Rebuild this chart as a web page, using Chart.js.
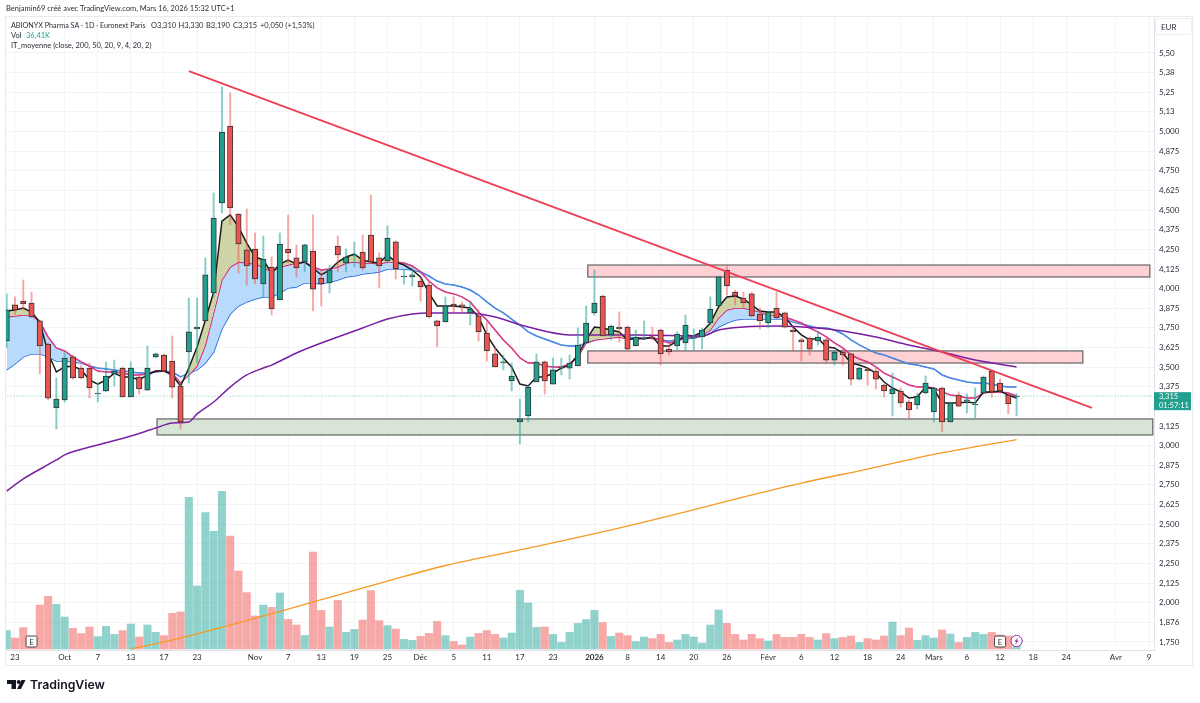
<!DOCTYPE html>
<html>
<head>
<meta charset="utf-8">
<title>ABIONYX Pharma SA</title>
<script src="https://cdn.jsdelivr.net/npm/chart.js@4/dist/chart.umd.min.js"></script>
<style>
  html, body { margin: 0; padding: 0; background: #fff; }
  canvas { display: block; }
</style>
</head>
<body>
<canvas id="myChart" width="1200" height="703"></canvas>
<script>
// ohlc, one entry per trading day (index 0 = 22 Sept 2025)
const opens = [3.666,3.896,3.921,3.908,3.794,3.647,3.240,3.291,3.565,3.494,
  3.494,3.329,3.348,3.456,3.494,3.310,3.437,3.354,3.565,3.577,
  3.539,3.380,3.596,3.743,3.794,3.972,4.545,5.035,4.475,4.246,
  4.252,4.029,4.137,3.927,4.252,4.195,4.169,4.239,4.067,4.036,
  4.271,4.163,4.208,4.233,4.341,4.195,4.176,4.297,4.074,4.074,
  4.048,4.023,3.794,3.787,3.902,3.896,3.845,3.826,3.717,3.584,
  3.526,3.412,3.151,3.189,3.405,3.533,3.392,3.494,3.494,3.507,
  3.654,3.845,3.953,3.705,3.755,3.755,3.635,3.679,3.692,3.736,
  3.615,3.635,3.654,3.685,3.692,3.781,3.889,4.118,3.978,3.940,
  3.966,3.838,3.781,3.876,3.845,3.736,3.673,3.685,3.666,3.673,
  3.545,3.596,3.584,3.424,3.488,3.475,3.386,3.329,3.348,3.278,
  3.259,3.335,3.214,3.367,3.151,3.322,3.284,3.259,3.335,3.475,
  3.399,3.322,3.310];
const highs = [3.966,3.947,4.055,3.978,3.800,3.654,3.431,3.590,3.577,3.513,
  3.526,3.399,3.533,3.545,3.501,3.533,3.450,3.635,3.590,3.584,
  3.698,3.399,3.940,3.940,4.195,4.609,5.284,5.245,4.481,4.507,
  4.354,4.335,4.201,4.354,4.469,4.278,4.284,4.469,4.118,4.150,
  4.335,4.252,4.297,4.341,4.596,4.227,4.399,4.303,4.118,4.131,
  4.067,4.048,3.800,3.947,3.947,3.915,3.915,3.864,3.787,3.622,
  3.577,3.526,3.297,3.380,3.584,3.539,3.558,3.558,3.577,3.749,
  3.889,4.118,3.959,3.768,3.851,3.762,3.736,3.794,3.755,3.743,
  3.641,3.724,3.832,3.743,3.749,3.947,4.080,4.144,3.991,3.978,
  3.978,3.876,3.857,3.978,3.851,3.749,3.685,3.692,3.724,3.685,
  3.609,3.615,3.590,3.501,3.494,3.494,3.392,3.462,3.367,3.291,
  3.335,3.443,3.373,3.373,3.278,3.342,3.329,3.367,3.443,3.482,
  3.424,3.335,3.330];
const lows = [3.622,3.832,3.864,3.813,3.456,3.291,3.106,3.278,3.424,3.424,
  3.303,3.278,3.342,3.380,3.310,3.310,3.329,3.354,3.558,3.469,
  3.303,3.106,3.399,3.526,3.794,3.947,4.481,4.405,4.099,4.023,
  4.029,3.947,3.832,3.927,4.163,4.074,4.106,3.857,3.889,3.972,
  4.106,4.106,4.137,4.118,4.163,4.004,4.169,4.061,4.029,4.017,
  3.921,3.813,3.628,3.787,3.851,3.851,3.768,3.666,3.539,3.501,
  3.482,3.348,3.011,3.151,3.405,3.329,3.392,3.450,3.424,3.507,
  3.654,3.832,3.698,3.673,3.660,3.603,3.635,3.679,3.673,3.513,
  3.577,3.609,3.609,3.609,3.615,3.768,3.889,3.959,3.896,3.876,
  3.819,3.743,3.749,3.806,3.749,3.603,3.539,3.577,3.641,3.526,
  3.513,3.513,3.386,3.418,3.386,3.361,3.310,3.189,3.246,3.176,
  3.233,3.329,3.151,3.087,3.151,3.246,3.208,3.176,3.329,3.310,
  3.335,3.202,3.190];
const closes = [3.864,3.864,3.902,3.819,3.635,3.303,3.297,3.558,3.431,3.431,
  3.367,3.335,3.443,3.475,3.310,3.494,3.361,3.494,3.584,3.475,
  3.373,3.151,3.724,3.755,4.087,4.449,4.997,4.513,4.284,4.144,
  4.061,4.188,3.870,4.284,4.227,4.131,4.278,3.997,4.029,4.118,
  4.214,4.201,4.214,4.131,4.169,4.144,4.322,4.125,4.080,4.087,
  4.010,3.819,3.762,3.889,3.889,3.889,3.870,3.724,3.603,3.501,
  3.533,3.443,3.170,3.373,3.533,3.412,3.482,3.501,3.526,3.641,
  3.781,3.908,3.698,3.762,3.743,3.615,3.692,3.685,3.685,3.584,
  3.596,3.711,3.768,3.692,3.736,3.870,4.074,4.017,3.953,3.908,
  3.826,3.794,3.851,3.813,3.755,3.724,3.660,3.615,3.692,3.545,
  3.596,3.577,3.424,3.494,3.475,3.424,3.348,3.361,3.272,3.227,
  3.316,3.399,3.367,3.151,3.272,3.252,3.291,3.265,3.437,3.342,
  3.348,3.265,3.315];

// volume in thousands
const volumes = [92,55,107,62,220,263,223,160,103,77,
  110,62,113,73,92,125,60,120,83,67,
  178,185,758,315,682,588,788,565,390,282,
  165,220,208,280,148,120,68,485,193,110,
  243,83,98,145,292,142,117,100,48,43,
  63,78,138,67,37,20,60,78,92,73,
  55,80,293,230,108,110,73,33,83,128,
  147,193,132,63,80,67,37,60,52,73,
  33,45,73,60,30,120,195,128,73,45,
  73,52,40,73,58,58,73,58,45,77,
  52,58,65,33,52,45,65,135,67,105,
  43,67,55,95,75,33,58,83,73,83,
  70,65,36.41];

// IT_moyenne lines, per bar
const fastLine = [3.857,3.864,3.876,3.851,3.787,3.590,3.469,3.501,3.507,3.482,
  3.418,3.392,3.418,3.462,3.437,3.437,3.418,3.450,3.475,3.475,
  3.450,3.380,3.494,3.628,3.800,3.978,4.430,4.469,4.392,4.290,
  4.201,4.182,4.099,4.156,4.182,4.156,4.169,4.131,4.087,4.118,
  4.169,4.201,4.220,4.182,4.169,4.163,4.214,4.169,4.150,4.118,
  4.074,3.972,3.889,3.889,3.889,3.883,3.876,3.819,3.705,3.622,
  3.558,3.501,3.392,3.380,3.437,3.437,3.462,3.494,3.513,3.577,
  3.673,3.755,3.749,3.736,3.724,3.673,3.685,3.679,3.692,3.635,
  3.635,3.666,3.705,3.698,3.724,3.781,3.883,3.947,3.953,3.934,
  3.896,3.857,3.851,3.851,3.819,3.755,3.705,3.673,3.685,3.628,
  3.622,3.590,3.526,3.513,3.494,3.462,3.405,3.367,3.342,3.303,
  3.310,3.373,3.361,3.272,3.272,3.272,3.278,3.272,3.342,3.342,
  3.348,3.322,3.303];
const ma20 = [3.819,3.826,3.832,3.832,3.787,3.692,3.622,3.603,3.565,3.533,
  3.507,3.475,3.469,3.469,3.462,3.450,3.450,3.456,3.475,3.475,
  3.462,3.399,3.450,3.507,3.641,3.845,4.055,4.137,4.169,4.163,
  4.156,4.137,4.106,4.137,4.150,4.163,4.169,4.137,4.118,4.125,
  4.137,4.163,4.169,4.163,4.163,4.156,4.169,4.169,4.163,4.144,
  4.106,4.048,4.004,3.978,3.966,3.947,3.915,3.851,3.800,3.736,
  3.673,3.622,3.558,3.526,3.526,3.507,3.501,3.501,3.520,3.565,
  3.654,3.673,3.679,3.685,3.692,3.679,3.679,3.685,3.685,3.673,
  3.654,3.666,3.692,3.692,3.705,3.736,3.813,3.864,3.876,3.876,
  3.864,3.851,3.832,3.832,3.819,3.800,3.781,3.749,3.724,3.692,
  3.654,3.622,3.577,3.552,3.533,3.501,3.462,3.437,3.412,3.386,
  3.373,3.373,3.367,3.342,3.322,3.316,3.303,3.303,3.335,3.342,
  3.342,3.335,3.316];
const ma50 = [3.482,3.520,3.565,3.584,3.584,3.565,3.539,3.539,3.533,3.526,
  3.507,3.494,3.488,3.482,3.475,3.469,3.462,3.462,3.469,3.475,
  3.469,3.437,3.462,3.482,3.526,3.596,3.743,3.838,3.889,3.915,
  3.934,3.947,3.947,3.972,4.004,4.010,4.036,4.036,4.029,4.042,
  4.055,4.074,4.080,4.093,4.099,4.106,4.125,4.125,4.125,4.118,
  4.106,4.080,4.048,4.029,4.023,4.010,3.991,3.959,3.915,3.876,
  3.845,3.806,3.768,3.724,3.698,3.679,3.660,3.641,3.635,3.635,
  3.654,3.673,3.685,3.692,3.692,3.692,3.685,3.685,3.685,3.673,
  3.666,3.673,3.679,3.685,3.698,3.717,3.755,3.781,3.800,3.806,
  3.806,3.806,3.806,3.806,3.806,3.787,3.775,3.762,3.749,3.749,
  3.736,3.711,3.673,3.641,3.615,3.590,3.577,3.558,3.539,3.520,
  3.513,3.501,3.488,3.450,3.431,3.418,3.405,3.399,3.399,3.392,
  3.380,3.373,3.373];

// the two slow averages, read at a few bars only
const ma200Bars = [0,2,6,7,11,15,18,20,22,23,25,27,29,31,32,35,39,43,46,49,51,56,59,63,68,76,84,86,89,93,98,101,105,109,113,117,122];
const ma200 = [2.711,2.788,2.909,2.941,3.004,3.061,3.112,3.144,3.151,3.202,3.278,3.373,3.450,3.494,3.513,3.590,3.673,3.749,3.806,3.838,3.845,3.845,3.819,3.755,3.705,3.705,3.698,3.736,3.755,3.762,3.749,3.730,3.692,3.641,3.596,3.545,3.501];
const longMaBars = [15,19,23,27,34,40,46,53,62,75,82,88,96,104,112,122];
const longMa = [1.705,1.750,1.801,1.858,1.960,2.049,2.138,2.237,2.336,2.488,2.578,2.660,2.762,2.851,2.944,3.039];

// drawings: [bar, price]
const trendBars = [22.02,131.1];
const trendPrices = [5.385,3.240];
const lastPrice = 3.315;
const zones = [
  { from: 18.16, to: 138.45, top: 3.170, bottom: 3.068, color: '#d8e5d6' },
  { from: 70.2, to: 138.1, top: 4.150, bottom: 4.074, color: '#ffd0d4' },
  { from: 70.2, to: 130.0, top: 3.603, bottom: 3.526, color: '#ffd0d4' }
];

const timeTickBars = [1,7,11,15,19,23,30,34,38,42,46,50,54,58,62,66,71,75,79,83,87,92,96,100,104,108,112,116,120,124,128,134,138];
const timeTickLabels = ['23','Oct','7','13','17','23','Nov','7','13','19','25','Déc','5','11','17','23','2026','8','14','20','26','Févr','6','12','18','24','Mars','6','12','18','24','Avr','9'];
const priceTicks = [5.5,5.375,5.25,5.125,5,4.875,4.75,4.625,4.5,4.375,4.25,4.125,4,3.875,3.75,3.625,3.5,3.375,3.125,3,2.875,2.75,2.625,2.5,2.375,2.25,2.125,2,1.875,1.75];
const priceLabels = ['5,50','5,38','5,25','5,13','5,000','4,875','4,750','4,625','4,500','4,375','4,250','4,125','4,000','3,875','3,750','3,625','3,500','3,375','3,125','3,000','2,875','2,750','2,625','2,500','2,375','2,250','2,125','2,000','1,876','1,750'];

const upColor = '#22a08f';
const downColor = '#ef5350';
const textColor = '#2a2e39';
const font = 'Lato';

function isUp(i) { return closes[i] >= opens[i]; }
function toPoints(values) { return values.map((v, i) => ({ x: i, y: v })); }
function toSparse(bars, values) { return bars.map((b, i) => ({ x: b, y: values[i] })); }

const lineBase = { type: 'line', pointRadius: 0, borderWidth: 1.5, tension: 0, yAxisID: 'y' };

// zones go under the marks
const zonePlugin = {
  id: 'zones',
  beforeDatasetsDraw(chart) {
    const { ctx, scales: { x, y } } = chart;
    ctx.save();
    zones.forEach(z => {
      const l = x.getPixelForValue(z.from), r = x.getPixelForValue(z.to);
      const t = y.getPixelForValue(z.top), b = y.getPixelForValue(z.bottom);
      ctx.fillStyle = z.color;
      ctx.fillRect(l, t, r - l, b - t);
      ctx.strokeStyle = '#6e6e6e';
      ctx.lineWidth = 1.3;
      ctx.strokeRect(l, t, r - l, b - t);
    });
    ctx.restore();
  }
};

function drawEarnings(ctx, cx) {
  ctx.fillStyle = '#fff';
  ctx.strokeStyle = '#444';
  ctx.lineWidth = 1;
  ctx.beginPath();
  ctx.roundRect(cx - 5.5, 636, 11, 11, 1.5);
  ctx.fill();
  ctx.stroke();
  ctx.fillStyle = '#333';
  ctx.font = '8px ' + font;
  ctx.textAlign = 'center';
  ctx.textBaseline = 'middle';
  ctx.fillText('E', cx, 642);
}

// header, frame, price label, markers and logo
const chromePlugin = {
  id: 'chrome',
  afterDraw(chart) {
    const { ctx, scales: { x, y } } = chart;
    ctx.save();
    ctx.strokeStyle = '#ebebeb';
    ctx.lineWidth = 1;
    ctx.strokeRect(5.5, 16.5, 1187, 649);

    ctx.textAlign = 'left';
    ctx.textBaseline = 'middle';
    ctx.fillStyle = textColor;
    ctx.font = '7.5px ' + font;
    ctx.fillText('Benjamin69 créé avec TradingView.com, Mars 16, 2026 15:32 UTC+1', 6, 9);
    ctx.fillText('O3,310', 151, 26);
    ctx.fillText('H3,330', 178.5, 26);
    ctx.fillText('B3,190', 206, 26);
    ctx.fillText('C3,315', 233, 26);
    ctx.fillText('+0,050 (+1,53%)', 260, 26);
    ctx.fillText('Vol', 11, 36);
    ctx.fillText('IT_moyenne (close, 200, 50, 20, 9, 4, 20, 2)', 11, 46);
    ctx.font = '7.2px ' + font;
    ctx.fillText('ABIONYX Pharma SA · 1D · Euronext Paris', 11, 26);
    ctx.font = '7.5px ' + font;
    ctx.fillStyle = upColor;
    ctx.fillText('36,41K', 26, 36);

    // last price box
    const py = y.getPixelForValue(lastPrice);
    ctx.fillStyle = upColor;
    ctx.fillRect(1154, py - 4, 37, 18);
    ctx.fillStyle = '#fff';
    ctx.fillText('3,315', 1159, py + 0.5);
    ctx.fillText('01:57:11', 1159, py + 9);

    drawEarnings(ctx, x.getPixelForValue(3));
    drawEarnings(ctx, x.getPixelForValue(120));

    // marker on the last bar
    const mx = x.getPixelForValue(122);
    ctx.fillStyle = '#fff';
    ctx.strokeStyle = '#9c27b0';
    ctx.beginPath();
    ctx.arc(mx, 641, 5.6, 0, Math.PI * 2);
    ctx.fill();
    ctx.stroke();
    ctx.fillStyle = '#9c27b0';
    ctx.beginPath();
    ctx.moveTo(mx + 1.5, 637.5);
    ctx.lineTo(mx - 2.2, 641.6);
    ctx.lineTo(mx - 0.2, 641.6);
    ctx.lineTo(mx - 1.5, 644.5);
    ctx.lineTo(mx + 2.2, 640.4);
    ctx.lineTo(mx + 0.2, 640.4);
    ctx.closePath();
    ctx.fill();

    // currency box
    ctx.strokeStyle = '#eeeeee';
    ctx.beginPath();
    ctx.roundRect(1155.5, 18.5, 36, 16, 2);
    ctx.stroke();
    ctx.fillStyle = textColor;
    ctx.font = '8px ' + font;
    ctx.textAlign = 'left';
    ctx.fillText('EUR', 1161, 27);

    // logo
    ctx.fillStyle = '#131722';
    ctx.fillRect(7, 680, 9, 4);
    ctx.fillRect(11.5, 680, 4.5, 9);
    ctx.beginPath();
    ctx.arc(18.7, 682, 2, 0, Math.PI * 2);
    ctx.fill();
    ctx.beginPath();
    ctx.moveTo(21.5, 680);
    ctx.lineTo(25.5, 680);
    ctx.lineTo(21, 689);
    ctx.lineTo(17, 689);
    ctx.closePath();
    ctx.fill();
    ctx.font = '600 12.3px Inter';
    ctx.fillText('TradingView', 30, 685);
    ctx.restore();
  }
};

const datasets = [
  { type: 'bar', order: 100, yAxisID: 'vol', grouped: false, barThickness: 7.4,
    data: toPoints(volumes),
    backgroundColor: volumes.map((v, i) => isUp(i) ? 'rgba(38,166,154,0.5)' : 'rgba(239,83,80,0.5)') },
  { ...lineBase, order: 90, borderWidth: 1.3, cubicInterpolationMode: 'monotone', data: toSparse(longMaBars, longMa), borderColor: '#f59a23' },
  { ...lineBase, order: 60, data: toPoints(ma50), borderColor: '#2f74e0' },
  { ...lineBase, order: 59, data: toPoints(ma20), borderColor: '#d81b7a',
    fill: { target: 2, above: '#b9dbfb', below: 'rgba(0,0,0,0)' } },
  { ...lineBase, order: 58, data: toPoints(fastLine), borderColor: '#1b1b1b',
    fill: { target: 3, above: '#cfd4a6', below: 'rgba(0,0,0,0)' } },
  { ...lineBase, order: 57, cubicInterpolationMode: 'monotone', data: toSparse(ma200Bars, ma200), borderColor: '#7b1fa2' },
  { type: 'bar', order: 30, grouped: false, barThickness: 1.3, yAxisID: 'y',
    data: highs.map((h, i) => ({ x: i, y: [lows[i], h] })),
    backgroundColor: opens.map((o, i) => isUp(i) ? 'rgba(38,166,154,0.55)' : 'rgba(239,83,80,0.5)') },
  { type: 'bar', order: 29, grouped: false, barThickness: 5.4, yAxisID: 'y',
    data: opens.map((o, i) => ({ x: i, y: [o, closes[i]] })),
    backgroundColor: opens.map((o, i) => isUp(i) ? upColor : downColor),
    borderColor: '#333', borderWidth: 1, borderSkipped: false },
  { ...lineBase, order: 10, data: toSparse(trendBars, trendPrices), borderColor: '#ef3f55', borderWidth: 1.8 },
  { ...lineBase, order: 95, borderWidth: 1, borderDash: [1, 2], borderColor: '#7fc8c0',
    data: [{ x: -1, y: lastPrice }, { x: 140, y: lastPrice }] }
];

new Chart(document.getElementById('myChart').getContext('2d'), {
  type: 'bar',
  data: { datasets },
  plugins: [zonePlugin, chromePlugin],
  options: {
    responsive: false,
    animation: false,
    events: [],
    layout: { padding: { left: 6, top: 17, right: 0, bottom: 0 } },
    plugins: { legend: { display: false }, tooltip: { enabled: false } },
    scales: {
      x: {
        type: 'linear',
        offset: false,
        min: -0.085,
        max: 138.6,
        afterFit(s) { s.height = 53; },
        afterBuildTicks(s) { s.ticks = timeTickBars.map(v => ({ value: v })); },
        grid: { color: '#f3f4f7', offset: false, drawTicks: false },
        border: { color: '#e0e3eb' },
        ticks: {
          autoSkip: false,
          maxRotation: 0,
          padding: 3,
          color: textColor,
          font: c => ({ family: font, size: 8, weight: c.tick && c.tick.label === '2026' ? 'bold' : 'normal' }),
          callback: (v, i) => timeTickLabels[i]
        }
      },
      y: {
        position: 'right',
        min: 1.699,
        max: 5.729,
        afterFit(s) { s.width = 46; },
        afterBuildTicks(s) { s.ticks = priceTicks.map(v => ({ value: v })); },
        grid: { color: '#f3f4f7', drawTicks: false },
        border: { color: '#e0e3eb' },
        ticks: {
          autoSkip: false,
          padding: 5,
          color: textColor,
          font: { family: font, size: 8 },
          callback: (v, i) => priceLabels[i]
        }
      },
      vol: { display: false, min: -5, max: 3160, grid: { display: false } }
    }
  }
});
</script>
</body>
</html>
